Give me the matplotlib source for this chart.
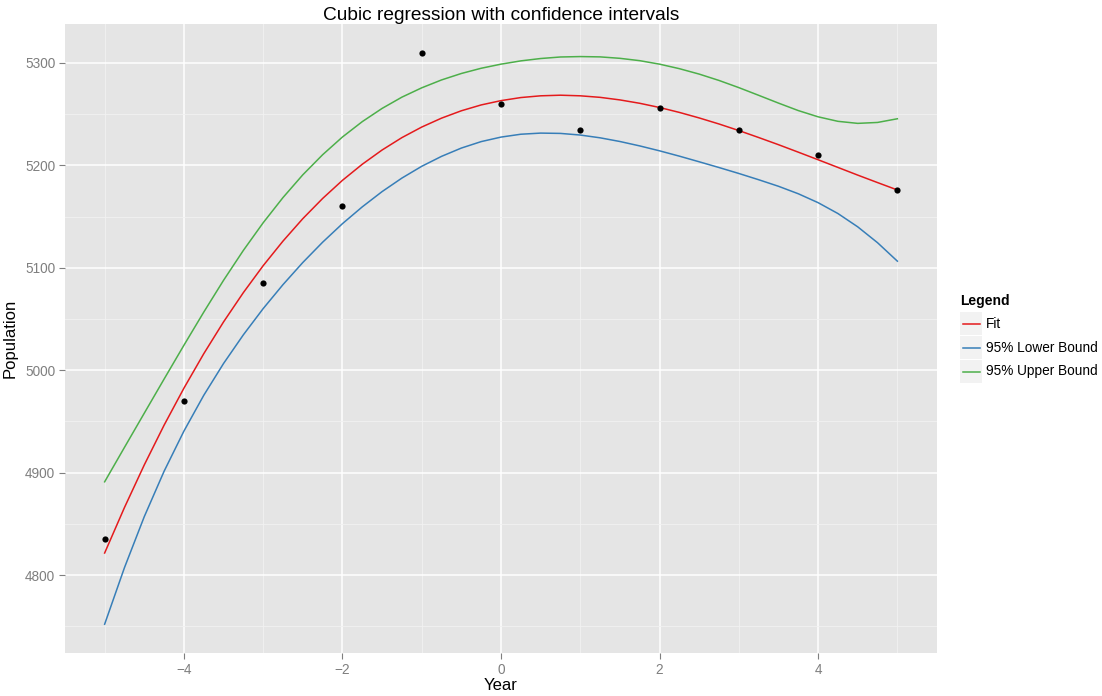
import matplotlib
matplotlib.use("Agg")
import matplotlib.pyplot as plt
from matplotlib.patches import Rectangle
from matplotlib.ticker import MultipleLocator

plt.rcParams['font.family'] = ['Liberation Sans', 'DejaVu Sans']

# observed data
years = [-5, -4, -3, -2, -1, 0, 1, 2, 3, 4, 5]
population = [4835, 4970, 5085, 5160, 5310, 5260, 5235, 5256, 5235, 5210, 5176]

# curves (x step 0.25)
curve_x = [-5.0, -4.75, -4.5, -4.25, -4.0, -3.75, -3.5, -3.25, -3.0, -2.75, -2.5,
           -2.25, -2.0, -1.75, -1.5, -1.25, -1.0, -0.75, -0.5, -0.25, 0.0,
           0.25, 0.5, 0.75, 1.0, 1.25, 1.5, 1.75, 2.0, 2.25, 2.5,
           2.75, 3.0, 3.25, 3.5, 3.75, 4.0, 4.25, 4.5, 4.75, 5.0]
fit = [4821.6, 4866.0, 4907.6, 4946.4, 4982.5, 5016.1, 5047.2, 5075.8, 5102.1, 5126.1, 5148.0,
       5167.7, 5185.4, 5201.1, 5215.0, 5227.1, 5237.4, 5246.1, 5253.3, 5259.0, 5263.2,
       5266.2, 5267.9, 5268.5, 5267.9, 5266.4, 5263.9, 5260.6, 5256.5, 5251.7, 5246.3,
       5240.4, 5234.0, 5227.2, 5220.2, 5212.9, 5205.5, 5198.0, 5190.5, 5183.2, 5176.0]
lower = [4752.1, 4807.3, 4857.1, 4901.4, 4940.6, 4975.5, 5006.6, 5034.6, 5060.2, 5083.6, 5105.2,
         5125.0, 5143.1, 5159.5, 5174.4, 5187.6, 5199.1, 5208.8, 5216.9, 5223.2, 5227.6,
         5230.4, 5231.5, 5231.2, 5229.6, 5226.9, 5223.3, 5219.0, 5214.2, 5209.0, 5203.5,
         5197.9, 5192.1, 5186.0, 5179.6, 5172.3, 5163.6, 5153.0, 5140.0, 5124.5, 5106.5]
upper = [4891.1, 4924.7, 4958.1, 4991.4, 5024.4, 5056.7, 5087.8, 5117.0, 5144.0, 5168.6, 5190.8,
         5210.4, 5227.7, 5242.7, 5255.6, 5266.6, 5275.7, 5283.4, 5289.7, 5294.8, 5298.8,
         5302.0, 5304.3, 5305.8, 5306.2, 5305.9, 5304.5, 5302.2, 5298.8, 5294.4, 5289.1,
         5282.9, 5275.9, 5268.4, 5260.8, 5253.5, 5247.4, 5243.0, 5241.0, 5241.9, 5245.5]

series_names = ["Fit", "95% Lower Bound", "95% Upper Bound"]
series_values = [fit, lower, upper]
series_colors = ["#E41A1C", "#377EB8", "#4DAF4A"]

x_ticks = [-4, -2, 0, 2, 4]
y_ticks = [4800, 4900, 5000, 5100, 5200, 5300]

W, H = 1102, 696
fig = plt.figure(figsize=(W / 100, H / 100), dpi=100)
L, R, T, B = 65, 937, 24, 653
ax = fig.add_axes([L / W, 1 - B / H, (R - L) / W, (B - T) / H])
ax.set_facecolor("#E5E5E5")

for name, vals, col in zip(series_names, series_values, series_colors):
    ax.plot(curve_x, vals, color=col, lw=1.1, zorder=3, solid_joinstyle="round")
ax.scatter(years, population, s=20, color="black", zorder=4, linewidths=0)

ax.set_xlim(-5.5, 5.5)
ax.set_ylim(4724, 5338)
ax.set_xticks(x_ticks)
ax.set_yticks(y_ticks)
ax.xaxis.set_minor_locator(MultipleLocator(1))
ax.yaxis.set_minor_locator(MultipleLocator(50))
ax.grid(which="major", color="white", lw=1.1, zorder=1)
ax.grid(which="minor", color="#F2F2F2", lw=0.6, zorder=0.5)
ax.set_axisbelow(True)
for s in ax.spines.values():
    s.set_visible(False)
ax.tick_params(which="major", length=4, width=0.8, color="#7F7F7F",
               labelcolor="#7F7F7F", labelsize=9.8, pad=3)
ax.tick_params(which="minor", length=0)

ax.set_xlabel("Year", fontsize=12, color="black", labelpad=1)
ax.set_ylabel("Population", fontsize=12, color="black", labelpad=5)
ax.set_title("Cubic regression with confidence intervals", fontsize=13.8, pad=3)

# legend (ggplot-style keys)
lx0, ly0, lw_, lh_ = 955, 285, 147, 105
lax = fig.add_axes([lx0 / W, 1 - (ly0 + lh_) / H, lw_ / W, lh_ / H])
lax.set_xlim(lx0, lx0 + lw_)
lax.set_ylim(ly0 + lh_, ly0)
lax.axis("off")
lax.text(960, 301, "Legend", fontsize=10, fontweight="bold", va="center", ha="left")
for i, (name, col) in enumerate(zip(series_names, series_colors)):
    top = 312 + 24 * i
    lax.add_patch(Rectangle((960, top), 22, 23, facecolor="#F2F2F2", edgecolor="none"))
    lax.plot([962.5, 979.5], [top + 11.5, top + 11.5], color=col, lw=1.1)
    lax.text(986, top + 11.5, name, fontsize=9.8, va="center", ha="left")

fig.savefig("out.png", dpi=100)
